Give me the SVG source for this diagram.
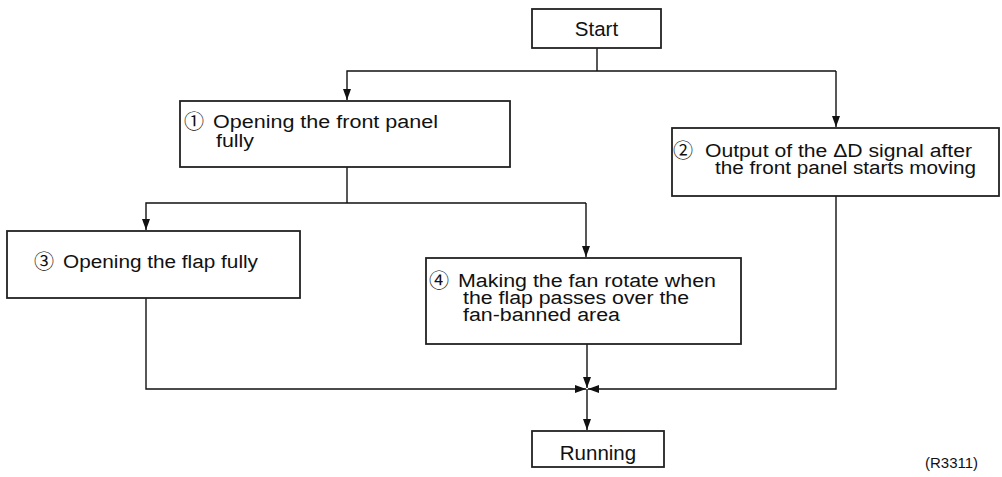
<svg xmlns="http://www.w3.org/2000/svg" width="1002" height="477" viewBox="0 0 1002 477">
<style>
.box{fill:#fff;stroke:#222;stroke-width:1.8}
.ln{fill:none;stroke:#111;stroke-width:1.4}
.t{font-family:"Liberation Sans",Arial,sans-serif;font-size:18px;fill:#111}
.s{font-family:"Liberation Sans",Arial,sans-serif;font-size:20.5px;fill:#111}
.c{font-family:"Noto Sans CJK JP","DejaVu Sans",sans-serif;font-size:20px;fill:#111}
.r{font-family:"Liberation Sans",Arial,sans-serif;font-size:15px;fill:#111}
</style>
<defs>
<marker id="ah" markerUnits="userSpaceOnUse" markerWidth="12" markerHeight="10" refX="11" refY="4" orient="auto">
<path d="M0,0 L11,4 L0,8 Z" fill="#111"/>
</marker>
</defs>
<rect width="1002" height="477" fill="#fff"/>
<g id="connectors">
<path class="ln" d="M597,48 V71"/>
<path class="ln" d="M836,71 H347 V100" marker-end="url(#ah)"/>
<path class="ln" d="M836,71 V127" marker-end="url(#ah)"/>
<path class="ln" d="M347,167 V203"/>
<path class="ln" d="M586,203 H146 V230" marker-end="url(#ah)"/>
<path class="ln" d="M586,203 V257" marker-end="url(#ah)"/>
<path class="ln" d="M146,298 V389 H586" marker-end="url(#ah)"/>
<path class="ln" d="M836,196 V389 H588" marker-end="url(#ah)"/>
<path class="ln" d="M587,344 V388" marker-end="url(#ah)"/>
<path class="ln" d="M587,389 V430" marker-end="url(#ah)"/>
</g>
<g id="start">
<rect class="box" x="532" y="9" width="129" height="39"/>
<text class="s" x="596.5" y="36" text-anchor="middle">Start</text>
</g>
<g id="n1">
<rect class="box" x="180" y="101" width="330" height="66"/>
<text class="c" x="184" y="129">①</text>
<text class="t" x="213" y="128" textLength="225" lengthAdjust="spacingAndGlyphs">Opening the front panel</text>
<text class="t" x="216" y="147" textLength="38" lengthAdjust="spacingAndGlyphs">fully</text>
</g>
<g id="n2">
<rect class="box" x="672" y="128" width="327" height="68"/>
<text class="c" x="673" y="158">②</text>
<text class="t" x="705" y="157" textLength="267" lengthAdjust="spacingAndGlyphs">Output of the ΔD signal after</text>
<text class="t" x="715" y="174" textLength="261" lengthAdjust="spacingAndGlyphs">the front panel starts moving</text>
</g>
<g id="n3">
<rect class="box" x="7" y="231" width="293" height="67"/>
<text class="c" x="34" y="269">③</text>
<text class="t" x="63" y="268" textLength="195" lengthAdjust="spacingAndGlyphs">Opening the flap fully</text>
</g>
<g id="n4">
<rect class="box" x="426" y="258" width="315" height="86"/>
<text class="c" x="429" y="288">④</text>
<text class="t" x="458" y="287" textLength="258" lengthAdjust="spacingAndGlyphs">Making the fan rotate when</text>
<text class="t" x="463" y="304" textLength="226" lengthAdjust="spacingAndGlyphs">the flap passes over the</text>
<text class="t" x="463" y="321" textLength="157" lengthAdjust="spacingAndGlyphs">fan-banned area</text>
</g>
<g id="running">
<rect class="box" x="532" y="431" width="132" height="36"/>
<text class="s" x="598" y="460" text-anchor="middle">Running</text>
</g>
<text class="r" x="925" y="468">(R3311)</text>
</svg>
